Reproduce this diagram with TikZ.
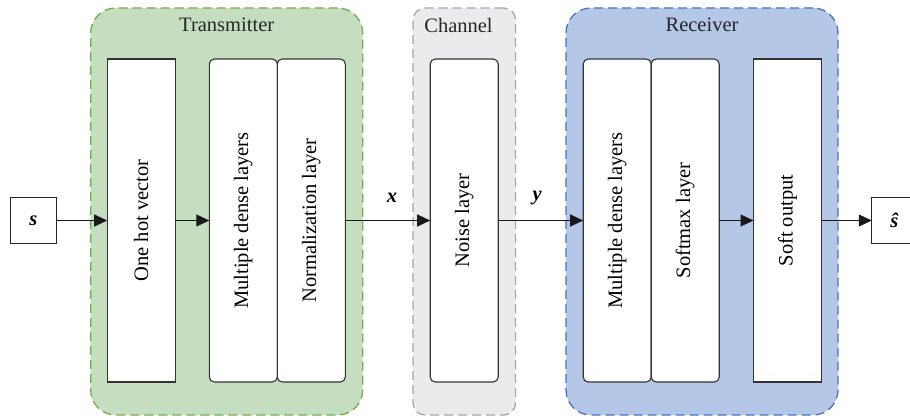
\documentclass[tikz,border=0pt]{standalone}
\usepackage{fontspec}
\setmainfont{Liberation Serif}
\usepackage{graphicx}
\usetikzlibrary{arrows.meta,positioning}
\definecolor{txfill}{HTML}{C6DEC0}
\definecolor{txline}{HTML}{70AD47}
\definecolor{chfill}{HTML}{EBEBED}
\definecolor{chline}{HTML}{A6A6A6}
\definecolor{rxfill}{HTML}{B4C7E7}
\definecolor{rxline}{HTML}{4472C4}
\tikzset{
  x=1pt, y=1pt,
  >={Triangle[length=13pt,width=12pt]},
  layer/.style={
    draw=black!80, line width=1.1pt, fill=white,
    minimum width=68pt, minimum height=323pt,
    inner sep=0pt, outer sep=0pt,
  },
  roundlayer/.style={layer, rounded corners=5pt},
  symbox/.style={
    draw=black!85, line width=1.1pt, fill=white,
    minimum width=45.5pt, minimum height=46pt,
    inner sep=0pt, outer sep=0pt,
  },
  group/.style={
    line width=1.3pt, dash pattern=on 9pt off 5pt,
    minimum height=407pt, inner sep=0pt, outer sep=0pt,
  },
  grouptitle/.style={inner sep=0pt, text=black!85},
  flow/.style={->, line width=1.1pt, draw=black!90},
}

\begin{document}
\begin{tikzpicture}[font=\fontsize{20.5}{24}\selectfont]
  \useasboundingbox (0,0) rectangle (910,418);
  \clip (0,0) rectangle (910,418);

  % groups
  \node[group, draw=txline, fill=txfill, minimum width=272pt,
    rounded corners=25pt] (tx) at (226.7,206.5) {};
  \node[group, draw=chline, fill=chfill, minimum width=102.5pt,
    rounded corners=12pt] (ch) at (464.3,206.5) {};
  \node[group, draw=rxline, fill=rxfill, minimum width=272pt,
    rounded corners=25pt] (rx) at (702,206.5) {};
  \node[grouptitle] at ([yshift=-17pt]tx.north) {Transmitter};
  \node[grouptitle] at ([xshift=-5.8pt,yshift=-17pt]ch.north) {Channel};
  \node[grouptitle] at ([yshift=-17pt]rx.north) {Receiver};

  % transmitter
  \node[layer] (onehot) at (141.2,197.5) {\rotatebox{90}{One hot vector}};
  \node[roundlayer] (tdense) at (243.3,197.5) {\rotatebox{90}{Multiple dense layers}};
  \node[roundlayer, right=0pt of tdense] (norm) {\rotatebox{90}{Normalization layer}};

  % channel
  \node[roundlayer] (noise) at (464.2,197.5) {\rotatebox{90}{Noise layer}};

  % receiver
  \node[roundlayer] (rdense) at (617.2,197.5) {\rotatebox{90}{Multiple dense layers}};
  \node[roundlayer, right=0pt of rdense] (softmax) {\rotatebox{90}{Softmax layer}};
  \node[layer] (softout) at (787.5,197.5) {\rotatebox{90}{Soft output}};

  % input / output
  \node[symbox] (s) at (33.4,197.5) {\textbf{\textit{s}}};
  \node[symbox] (shat) at (894.5,197.5) {\textbf{\textit{\^{s}}}};

  % connectors
  \draw[flow] (s) -- (onehot);
  \draw[flow] (onehot) -- (tdense);
  \draw[flow] (norm) -- node[pos=0.55, anchor=base, yshift=17.5pt, inner sep=0pt]
    {\textbf{\textit{x}}} (noise);
  \draw[flow] (noise) -- node[pos=0.46, anchor=base, yshift=20pt, inner sep=0pt]
    {\textbf{\textit{y}}} (rdense);
  \draw[flow] (softmax) -- (softout);
  \draw[flow] (softout) -- (shat);
\end{tikzpicture}
\end{document}
